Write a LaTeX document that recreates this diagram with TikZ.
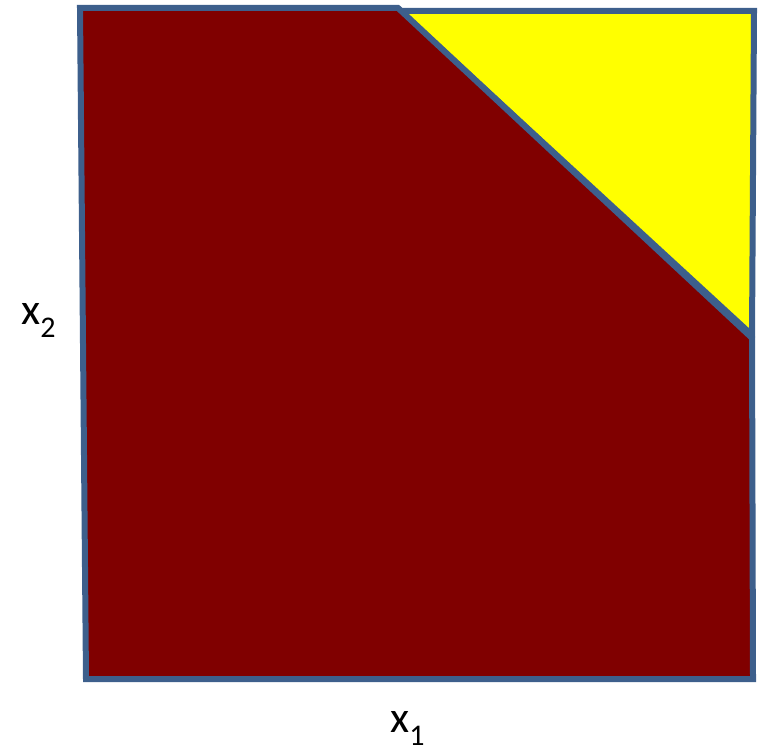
\documentclass[tikz,border=0pt]{standalone}
\usepackage{fontspec}
\setmainfont{Carlito}
\definecolor{outline}{HTML}{3D5F8C}
\definecolor{maroonfill}{HTML}{800000}
\definecolor{yellowfill}{HTML}{FFFF00}
\newcommand{\sublabel}[2]{#1\raisebox{-13pt}[\height][0pt]{\fontsize{30}{30}\selectfont #2}}
\begin{document}
\begin{tikzpicture}[x=1pt,y=-1pt,
    region/.style={draw=outline, line width=6pt, line join=miter},
    axislabel/.style={inner sep=0pt, anchor=base west, font=\fontsize{44}{50}\selectfont}]
  \useasboundingbox (0,0) rectangle (759,752);
  % feasible part and cut-off corner
  \draw[region, fill=yellowfill] (400,11) -- (754,11) -- (752,335) -- cycle;
  \draw[region, fill=maroonfill] (80,8) -- (398,8) -- (752,338) -- (753,679) -- (86,679) -- cycle;
  \node[axislabel] (xtwo) at (21,324) {\sublabel{x}{2}};
  \node[axislabel] (xone) at (390,732) {\sublabel{x}{1}};
\end{tikzpicture}
\end{document}
